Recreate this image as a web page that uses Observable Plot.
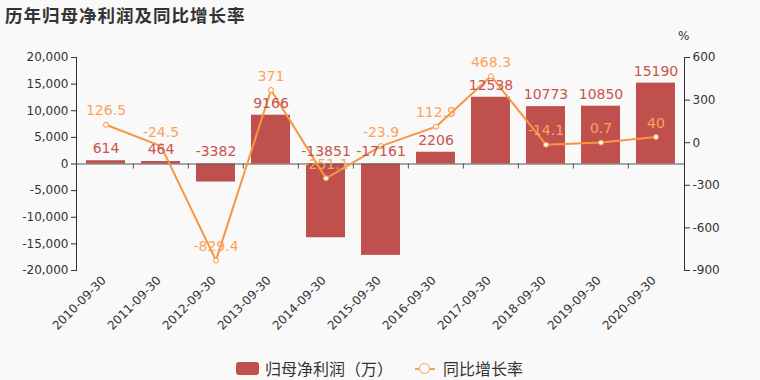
<!DOCTYPE html>
<html>
<head>
<meta charset="utf-8">
<script src="https://cdn.jsdelivr.net/npm/d3@7"></script>
<script src="https://cdn.jsdelivr.net/npm/@observablehq/plot@0.6"></script>
<style>
  html, body { margin: 0; padding: 0; background: #f9f9f9; }
  body { width: 760px; height: 380px; position: relative; overflow: hidden;
         font-family: "DejaVu Sans", "Noto Sans CJK SC", sans-serif; color: #333; }
  #title { position: absolute; left: 5px; top: 2px; font-size: 17.5px; letter-spacing: 1px; font-weight: bold; color: #333; white-space: nowrap; }
  #chart { position: absolute; left: 0; top: 0; }
  #pct { position: absolute; left: 678px; top: 29px; font-size: 12px; color: #333; }
  #legend { position: absolute; left: 236px; top: 356px; font-size: 16px; color: #333; display: flex; align-items: center; white-space: nowrap; }
  .sw { display: inline-block; width: 23px; height: 13px; background: #c0504d; border-radius: 3px; margin-right: 6px; }
  .ln { display: inline-block; position: relative; width: 20px; height: 13px; margin-left: 22px; margin-right: 8px; }
  .ln:before { content: ""; position: absolute; left: 0; right: 0; top: 6px; border-top: 2px solid #f7a254; }
  .ln:after { content: ""; position: absolute; left: 4px; top: 1px; width: 9px; height: 9px; border: 1.5px solid #f7a254; border-radius: 50%; background: #f9f9f9; }
</style>
</head>
<body>
<div id="title">历年归母净利润及同比增长率</div>
<div id="chart"></div>
<div id="pct">%</div>
<div id="legend"><span class="sw"></span><span>归母净利润（万）</span><span class="ln"></span><span>同比增长率</span></div>
<script>
const categories = ["2010-09-30","2011-09-30","2012-09-30","2013-09-30","2014-09-30","2015-09-30","2016-09-30","2017-09-30","2018-09-30","2019-09-30","2020-09-30"];
const profit = [614, 464, -3382, 9166, -13851, -17161, 2206, 12538, 10773, 10850, 15190];
const growth = [126.5, -24.5, -829.4, 371, -251.1, -23.9, 112.9, 468.3, -14.1, 0.7, 40];
const leftTicks = [-20000, -15000, -10000, -5000, 0, 5000, 10000, 15000, 20000];
const rightTicks = [-900, -600, -300, 0, 300, 600];

const data = categories.map((d, i) => ({date: d, profit: profit[i], growth: growth[i]}));

// map right-axis (%) values onto the left scale domain
const L0 = -20000, L1 = 20000, R0 = -900, R1 = 600;
const toLeft = p => L0 + (p - R0) / (R1 - R0) * (L1 - L0);
const toRight = v => Math.round(R0 + (v - L0) / (L1 - L0) * (R1 - R0));

const W = 760, H = 340, mL = 76, mR = 76;
const step = (W - mL - mR) / categories.length;
const barColor = "#c0504d", lineColor = "#f7963f", lineLabel = "#f9a55a", barLabel = "#c9534f";

const chart = Plot.plot({
  width: W, height: H,
  marginTop: 57, marginBottom: 70, marginLeft: mL, marginRight: mR,
  style: {background: "transparent", fontFamily: '"DejaVu Sans", "Noto Sans CJK SC", sans-serif', fontSize: "12px", color: "#333"},
  x: {domain: categories, paddingInner: 0.3, paddingOuter: 0.15, align: 0.5},
  y: {domain: [L0, L1]},
  marks: [
    Plot.barY(data, {x: "date", y: "profit", fill: barColor}),
    Plot.ruleY([0], {stroke: "#555", strokeWidth: 1}),
    Plot.ruleX(categories.slice(1), {x: d => d, y1: 0, y2: -950, dx: -step / 2, stroke: "#555"}),
    Plot.axisY({anchor: "left", ticks: leftTicks, tickFormat: d => d.toLocaleString("en-US"), tickSize: 5, tickPadding: 3, label: null, fontSize: 12}),
    Plot.axisY({anchor: "right", ticks: rightTicks.map(toLeft), tickFormat: toRight, tickSize: 5, tickPadding: 3, label: null, fontSize: 12}),
    Plot.frame({anchor: "left", stroke: "#333"}),
    Plot.frame({anchor: "right", stroke: "#333"}),
    Plot.axisX({anchor: "bottom", tickRotate: -45, tickSize: 0, tickPadding: 8, label: null, fontSize: 12, dx: -2}),
    Plot.line(data, {x: "date", y: d => toLeft(d.growth), stroke: lineColor, strokeWidth: 2}),
    Plot.dot(data, {x: "date", y: d => toLeft(d.growth), r: 2.5, fill: "white", stroke: lineColor, strokeWidth: 1}),
    Plot.text(data, {x: "date", y: d => Math.max(d.profit, 0), text: d => String(d.profit), dy: -12, fill: barLabel, fontSize: 14}),
    Plot.text(data, {x: "date", y: d => toLeft(d.growth), text: d => String(d.growth), dy: -14, fill: lineLabel, fontSize: 14})
  ]
});
document.getElementById("chart").appendChild(chart);
</script>
</body>
</html>
